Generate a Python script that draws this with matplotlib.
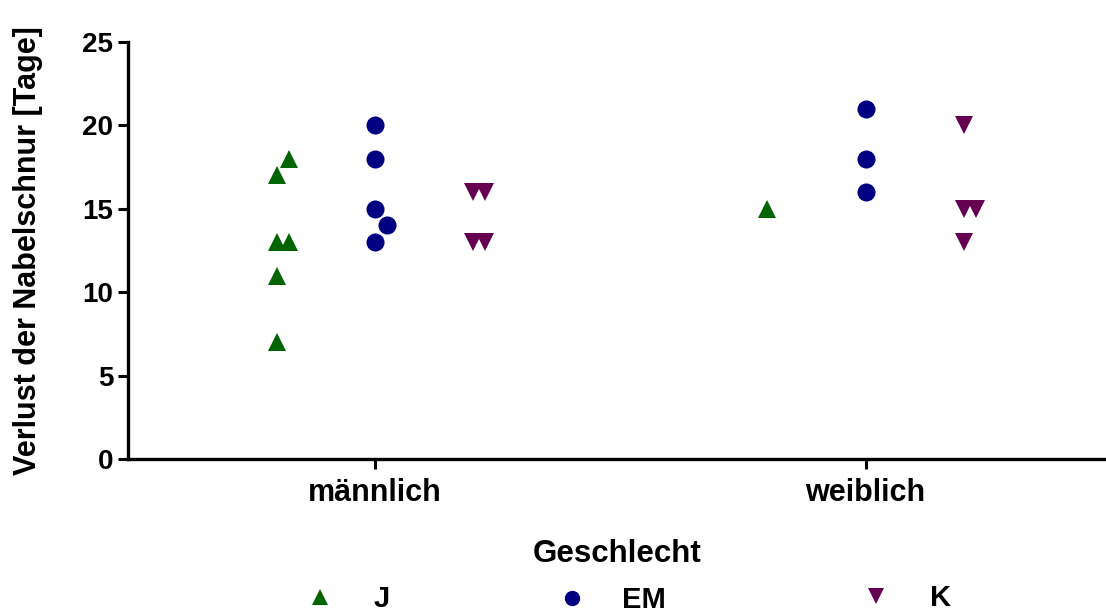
import matplotlib
matplotlib.use("Agg")
import matplotlib.pyplot as plt
import numpy as np

# ---------------- data ----------------
categories = ["männlich", "weiblich"]
series_names = ["J", "EM", "K"]

j_maennlich = [17, 18, 13, 13, 11, 7]
j_weiblich = [15]
em_maennlich = [20, 18, 15, 13, 14]
em_weiblich = [21, 18, 16]
k_maennlich = [16, 16, 13, 13]
k_weiblich = [20, 15, 15, 13]

y_ticks = [0, 5, 10, 15, 20, 25]
x_label = "Geschlecht"
y_label = "Verlust der Nabelschnur [Tage]"

colors = {"J": "#006400", "EM": "#000080", "K": "#650050"}
markers = {"J": "^", "EM": "o", "K": "v"}
series_data = {
    "J": [j_maennlich, j_weiblich],
    "EM": [em_maennlich, em_weiblich],
    "K": [k_maennlich, k_weiblich],
}

FONT = "Liberation Sans"
plt.rcParams["font.family"] = [FONT, "DejaVu Sans"]
plt.rcParams["font.weight"] = "bold"

W, H = 1106, 613
fig = plt.figure(figsize=(W / 100, H / 100), dpi=100)
ax = fig.add_axes([128 / W, 1 - 459 / H, 1 - 128 / W - 0.0005, (459 - 42) / H])

ylim = (0, 25)
xlim = (-0.503, 1.489)
ax.set_ylim(*ylim)
ax.set_xlim(*xlim)

# pixel scales for the dodging of overlapping points
ax_w_px = W - 128
ax_h_px = 459 - 42
px_per_x = ax_w_px / (xlim[1] - xlim[0])
px_per_y = ax_h_px / (ylim[1] - ylim[0])
step_px = 12.5


def dodge(values):
    """Greedy scatter dodge: returns x offsets in data units."""
    placed = []
    offs = []
    cands = [0, step_px, -2 * step_px, 2 * step_px, -3 * step_px]
    for v in values:
        vy = v * px_per_y
        for c in cands:
            if all(not (abs(vy - py) < 17.5 and abs(c - px) < 12) for px, py in placed):
                break
        placed.append((c, vy))
        offs.append(c / px_per_x)
    return np.array(offs)


group_offset = {"J": -0.2, "EM": 0.0, "K": 0.2}
handles = []
for name in series_names:
    h = None
    for ci, vals in enumerate(series_data[name]):
        vals = np.asarray(vals, dtype=float)
        xs = ci + group_offset[name] + dodge(vals)
        (line,) = ax.plot(xs, vals, linestyle="none", marker=markers[name],
                          markersize=13, color=colors[name], markeredgewidth=0,
                          clip_on=False, zorder=3)
        if h is None:
            h = line
    handles.append(h)

# axes styling (Prism-like)
for s in ["top", "right"]:
    ax.spines[s].set_visible(False)
for s in ["left", "bottom"]:
    ax.spines[s].set_linewidth(2.4)
ax.set_yticks(y_ticks)
ax.set_yticklabels([str(t) for t in y_ticks])
ax.set_xticks(range(len(categories)))
ax.set_xticklabels(categories)
ax.tick_params(axis="both", length=7.5, width=2.2, direction="out")
ax.tick_params(axis="y", labelsize=20, pad=3)
ax.tick_params(axis="x", labelsize=22, pad=6)
for lab in ax.get_xticklabels() + ax.get_yticklabels():
    lab.set_fontweight("bold")

ax.set_xlabel(x_label, fontsize=22.5, fontweight="bold")
ax.xaxis.set_label_coords(0.5, -0.192)
ax.set_ylabel(y_label, fontsize=22, fontweight="bold")
ax.yaxis.set_label_coords(-0.087, 0.5)

# legend: one entry per series, spread along the bottom row
leg_fs = 21
leg_fs_px = leg_fs * 100 / 72
leg_marker_x = [320, 572, 876]
leg_marker_y = [599, 600, 598]
leg_text_pad = [1.35, 1.2, 1.35]
for hnd, name, mx, my, tp in zip(handles, series_names, leg_marker_x, leg_marker_y, leg_text_pad):
    left = (mx - 0.5 * leg_fs_px) / W
    fig.legend([hnd], [name], loc="center left",
               bbox_to_anchor=(left, 1 - my / H), bbox_transform=fig.transFigure,
               frameon=False, markerscale=0.85, handlelength=1.0,
               handletextpad=tp, borderpad=0, borderaxespad=0,
               prop={"family": FONT, "weight": "bold", "size": leg_fs})

fig.savefig("out.png", dpi=100)
